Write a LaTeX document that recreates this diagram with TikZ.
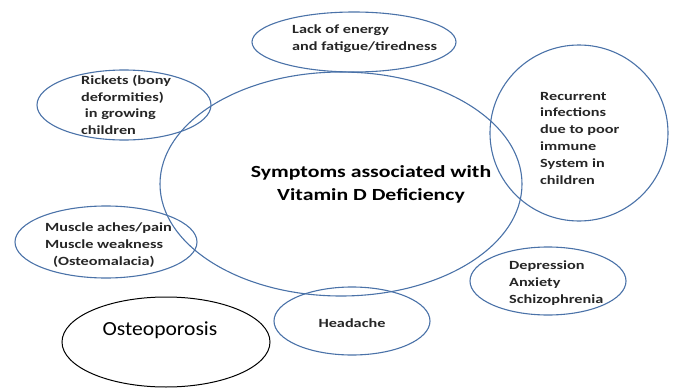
\documentclass[tikz,border=0pt]{standalone}
\usepackage{fontspec}
\setmainfont{Carlito}
\newfontfamily\smallwide[FakeStretch=1.3]{Carlito}
\newfontfamily\bigwide[FakeStretch=1.28]{Carlito}
\newfontfamily\ostwide[FakeStretch=1.08]{Carlito}
\usetikzlibrary{shapes.geometric}
\definecolor{eblue}{HTML}{4A72A8}
\tikzset{
  ell/.style={draw=eblue, line width=1.1pt, ellipse, inner sep=0pt},
  txt/.style={font=\smallwide\bfseries\fontsize{12.5}{16.8}\selectfont, align=left, inner sep=0pt, text=black!85},
  big/.style={font=\bigwide\bfseries\fontsize{17}{23}\selectfont, align=center, inner sep=0pt}
}
\begin{document}
\begin{tikzpicture}[x=1pt,y=-1pt]
\useasboundingbox (0,0) rectangle (675,388);
% ellipses
\node[ell, minimum width=362pt, minimum height=224pt] (c) at (341,184) {};
\node[ell, minimum width=204pt, minimum height=60pt] (top) at (354,42) {};
\node[ell, minimum width=174pt, minimum height=70pt] (rick) at (124,105) {};
\node[ell, minimum width=178pt, minimum height=176pt] (rec) at (579,133) {};
\node[ell, minimum width=182pt, minimum height=72pt] (mus) at (106,242) {};
\node[ell, minimum width=156pt, minimum height=68pt] (dep) at (548,281) {};
\node[ell, minimum width=156pt, minimum height=68pt] (head) at (352,321) {};
\node[draw=black, line width=1pt, ellipse, minimum width=208pt, minimum height=90pt, inner sep=0pt] (ost) at (166,342) {};
% texts
\node[big] (ct) at (371,184) {Symptoms associated with\\Vitamin D Deficiency};
\node[txt, anchor=west] (tt) at (292,39) {Lack of energy\\and fatigue/tiredness};
\node[txt, anchor=west] (rt) at (81,105) {Rickets (bony\\deformities)\\\ in growing\\children};
\node[txt, anchor=west] (rct) at (540,138) {Recurrent\\infections\\due to poor\\immune\\System in\\children};
\node[txt, anchor=west] (mt) at (45,245) {Muscle aches/pain\\Muscle weakness\\\hspace*{8pt}(Osteomalacia)};
\node[txt, anchor=west] (dt) at (509,283) {Depression\\Anxiety\\Schizophrenia};
\node[txt] (ht) at (352,323) {Headache};
\node[font=\ostwide\fontsize{20}{22}\selectfont, inner sep=0pt] (ot) at (160,330) {Osteoporosis};
\end{tikzpicture}
\end{document}
